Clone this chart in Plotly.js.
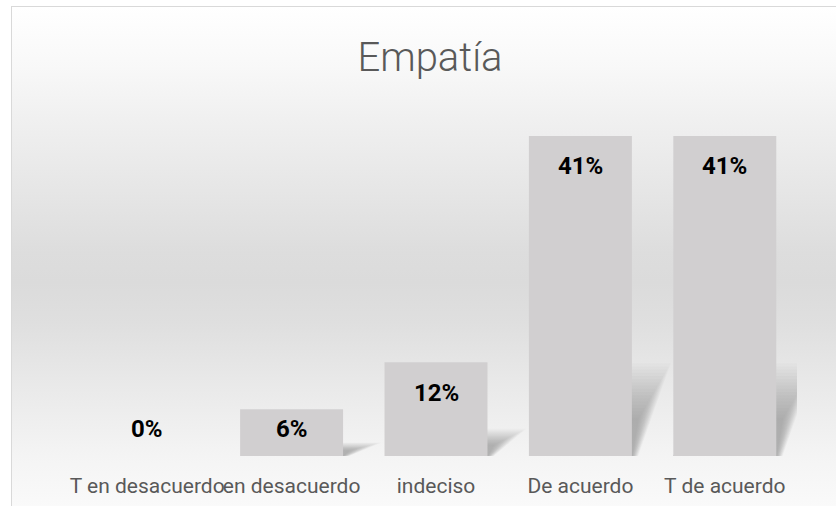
<!DOCTYPE html>
<html>
<head>
<meta charset="utf-8">
<script src="https://cdn.plot.ly/plotly-3.0.1.min.js"></script>
<style>
  html, body { margin: 0; padding: 0; background: #ffffff; }
  #wrap { position: relative; width: 836px; height: 506px; overflow: hidden; }
  #bg {
    position: absolute; left: 11px; top: 6px; width: 840px; height: 510px;
    border-left: 1.5px solid #d9d9d9; border-top: 1.5px solid #d9d9d9;
    background: linear-gradient(to bottom, #ffffff 0%, #f8f8f8 12%, #f0f0f0 22%, #e6e6e6 36%, #dddddd 48%, #dbdbdb 54%, #dfdfdf 62%, #e9e9e9 74%, #f4f4f4 88%, #fbfbfb 100%);
  }
  #chart { position: absolute; left: 0; top: 0; width: 836px; height: 506px; }
</style>
</head>
<body>
<div id="wrap">
  <div id="bg"></div>
  <div id="chart"></div>
</div>
<script>
// Data
const chartTitle = "Empatía";
const categories = ["T en desacuerdo", "en desacuerdo", "indeciso", "De acuerdo", "T de acuerdo"];
const values = [0, 6, 12, 41, 41];          // percent
const labels = ["0%", "6%", "12%", "41%", "41%"];

const barColor = "#d1cfd0";
const halfW = 0.3565;

// bar trace
const bars = {
  type: "bar",
  x: categories.map((_, i) => i),
  y: values,
  marker: { color: barColor, line: { width: 0 } },
  width: 2 * halfW,
  hoverinfo: "skip"
};

// soft perspective shadows (drawn below bars), layered to fake a blur
const shapes = [];
const nLayers = 18;
values.forEach((v, i) => {
  if (v <= 0) return;
  for (let k = 0; k < nLayers; k++) {
    const t = k / (nLayers - 1);           // 0..1
    const d = 0.05 + t * 0.22;              // horizontal lean (category units)
    const h = v * (0.12 + t * 0.17);        // shadow height
    const x0 = i - halfW, x1 = i + halfW;
    shapes.push({
      type: "path", xref: "x", yref: "y", layer: "below",
      path: `M ${x0} 0 L ${x1 + 0.005 + t * 0.04} 0 L ${x1 + d} ${h} L ${x0 + d} ${h} Z`,
      fillcolor: "rgba(0,0,0,0.017)", line: { width: 0 }
    });
  }
});

// data labels
const annotations = values.map((v, i) => {
  const tall = v > 7.3;
  return {
    x: i, y: tall ? v : 0, xref: "x", yref: "y",
    text: "<b>" + labels[i] + "</b>", showarrow: false,
    xanchor: "center", yanchor: "middle",
    yshift: tall ? -30.5 : 27,
    font: { family: "Roboto, sans-serif", size: 24, color: "#000000", weight: 700 }
  };
});

const layout = {
  width: 836, height: 506,
  paper_bgcolor: "rgba(0,0,0,0)",
  plot_bgcolor: "rgba(0,0,0,0)",
  margin: { l: 75, r: 39, t: 100, b: 49.5 },
  showlegend: false,
  title: {
    text: chartTitle,
    x: 430 / 836, xref: "container", xanchor: "center",
    y: 1 - 57 / 506, yref: "container", yanchor: "middle",
    font: { family: "Roboto, sans-serif", size: 40, color: "#595959", weight: 300 }
  },
  xaxis: {
    range: [-0.5, 4.5],
    tickmode: "array",
    tickvals: categories.map((_, i) => i),
    ticktext: categories,
    tickangle: 0,
    showgrid: false, zeroline: false, showline: false, ticks: "",
    ticklabelstandoff: 15,
    tickfont: { family: "Roboto, sans-serif", size: 21, color: "#595959" },
    fixedrange: true
  },
  yaxis: {
    range: [0, 45.6],
    visible: false, showgrid: false, zeroline: false, fixedrange: true
  },
  shapes: shapes,
  annotations: annotations,
  bargap: 0.287
};

Plotly.newPlot("chart", [bars], layout, { displayModeBar: false, staticPlot: true });
</script>
</body>
</html>
